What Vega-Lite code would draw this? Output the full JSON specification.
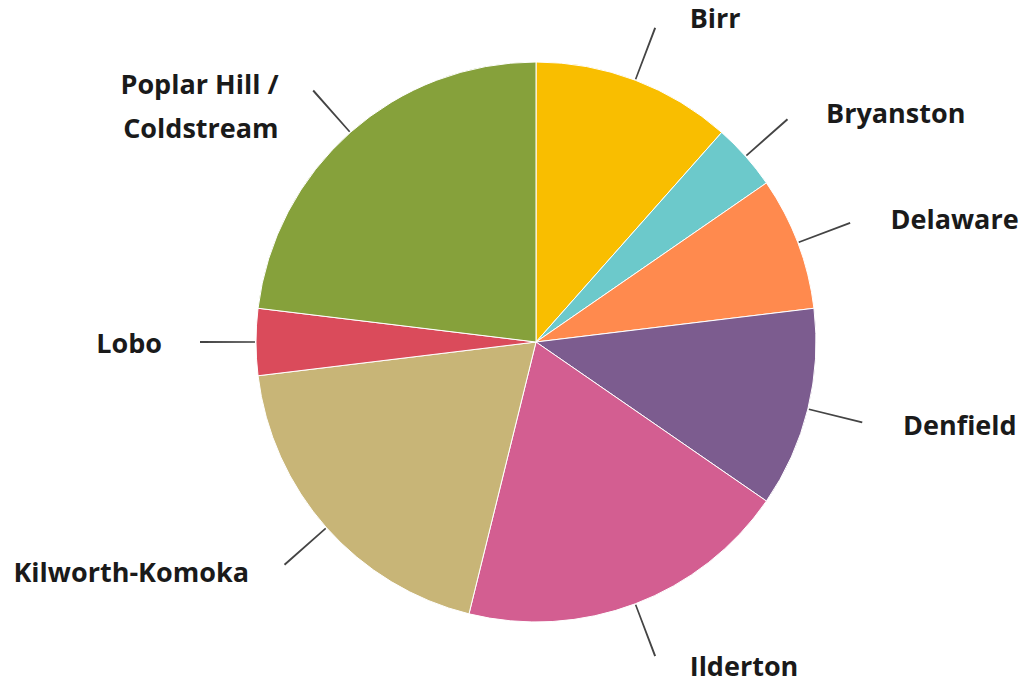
{
  "$schema": "https://vega.github.io/schema/vega-lite/v6.json",
  "width": 984,
  "height": 684,
  "autosize": "none",
  "padding": {"left": 44, "top": 0, "right": 0, "bottom": 2},
  "background": "white",
  "view": {"stroke": null},
  "data": {
    "values": [
      {"name": "Birr", "label": "Birr", "count": 3},
      {"name": "Bryanston", "label": "Bryanston", "count": 1},
      {"name": "Delaware", "label": "Delaware", "count": 2},
      {"name": "Denfield", "label": "Denfield", "count": 3},
      {"name": "Ilderton", "label": "Ilderton", "count": 5},
      {"name": "Kilworth-Komoka", "label": "Kilworth-Komoka", "count": 5},
      {"name": "Lobo", "label": "Lobo", "count": 1},
      {"name": "Poplar Hill / Coldstream", "label": "Poplar Hill /\nColdstream", "count": 6}
    ]
  },
  "transform": [
    {"window": [{"op": "sum", "field": "count", "as": "cum"}], "sort": [{"field": "name"}], "frame": [null, 0]},
    {"calculate": "datum.cum - datum.count / 2", "as": "mid"},
    {"calculate": "datum.mid - 0.012", "as": "lo"},
    {"calculate": "datum.mid + 0.012", "as": "hi"}
  ],
  "layer": [
    {
      "mark": {"type": "arc", "radius": 280, "stroke": "white", "strokeWidth": 1},
      "encoding": {
        "theta": {"field": "count", "type": "quantitative", "stack": true, "scale": {"domain": [0, 26]}},
        "order": {"field": "name", "sort": "ascending"},
        "color": {
          "field": "name", "type": "nominal", "legend": null,
          "scale": {
            "domain": ["Birr", "Bryanston", "Delaware", "Denfield", "Ilderton", "Kilworth-Komoka", "Lobo", "Poplar Hill / Coldstream"],
            "range": ["#F9BE00", "#6CC9CB", "#FF8A4E", "#7C5C8F", "#D35E91", "#C8B577", "#DA4B5B", "#86A13B"]
          }
        }
      }
    },
    {
      "mark": {"type": "arc", "radius": 336, "radius2": 281, "fill": "#444444"},
      "encoding": {
        "theta": {"field": "lo", "type": "quantitative", "stack": null, "scale": {"domain": [0, 26]}},
        "theta2": {"field": "hi"}
      }
    },
    {
      "transform": [{"filter": "datum.mid < 13"}],
      "mark": {"type": "text", "radius": 346, "align": "left", "baseline": "middle", "dx": 31, "dy": 2, "font": "Open Sans", "fontSize": 27, "fontWeight": "bold", "color": "#1a1a1a", "lineBreak": "\n", "lineHeight": 44},
      "encoding": {
        "theta": {"field": "mid", "type": "quantitative", "stack": null, "scale": {"domain": [0, 26]}},
        "text": {"field": "label"}
      }
    },
    {
      "transform": [{"filter": "datum.mid >= 13"}],
      "mark": {"type": "text", "radius": 346, "align": "right", "baseline": "middle", "dx": -28, "dy": 3, "font": "Open Sans", "fontSize": 27, "fontWeight": "bold", "color": "#1a1a1a", "lineBreak": "\n", "lineHeight": 44},
      "encoding": {
        "theta": {"field": "mid", "type": "quantitative", "stack": null, "scale": {"domain": [0, 26]}},
        "text": {"field": "label"}
      }
    }
  ]
}
